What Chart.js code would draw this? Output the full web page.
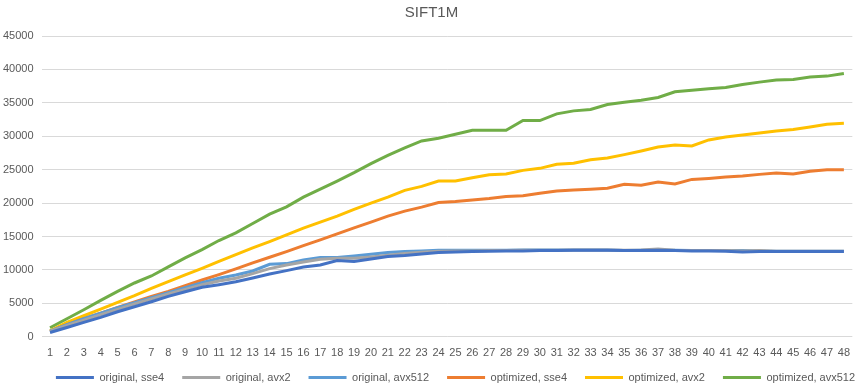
<!DOCTYPE html>
<html>
<head>
<meta charset="utf-8">
<script src="https://cdn.jsdelivr.net/npm/chart.js@4/dist/chart.umd.min.js"></script>
<style>
  html, body { margin: 0; padding: 0; background: #fff; }
  #wrap { width: 860px; height: 386px; }
</style>
</head>
<body>
<div id="wrap"><canvas id="chart"></canvas></div>
<script>
// categories 1..48
var labels = [];
for (var i = 1; i <= 48; i++) labels.push(String(i));

var yTicks = [0, 5000, 10000, 15000, 20000, 25000, 30000, 35000, 40000, 45000];

var origSse4 = [650, 1400, 2150, 2900, 3750, 4500, 5250, 6050, 6750, 7400,
    7800, 8250, 8800, 9400, 9900, 10450, 10750, 11400, 11250, 11650,
    12000, 12150, 12400, 12600, 12700, 12750, 12800, 12850, 12850, 12900,
    12900, 12950, 12950, 12950, 12900, 12900, 12950, 12900, 12850, 12850,
    12800, 12700, 12750, 12750, 12750, 12750, 12750, 12750];
var origAvx2 = [800, 1700, 2500, 3300, 4100, 4900, 5650, 6400, 7100, 7800,
    8350, 8750, 9450, 10200, 10750, 11200, 11600, 11750, 11750, 11950,
    12200, 12450, 12650, 12800, 12850, 12850, 12900, 12900, 12950, 12950,
    12950, 13000, 13000, 13000, 12950, 13000, 13150, 12950, 12900, 12900,
    12900, 12850, 12900, 12800, 12800, 12800, 12800, 12800];
var origAvx512 = [850, 1800, 2700, 3550, 4350, 5100, 5850, 6600, 7350, 8100,
    8750, 9250, 9850, 10850, 10950, 11500, 11850, 11850, 12100, 12350,
    12600, 12750, 12850, 12950, 12950, 12950, 12950, 12950, 13000, 13000,
    13000, 13000, 13000, 13000, 12900, 12950, 12950, 12950, 12900, 12900,
    12900, 12900, 12850, 12800, 12800, 12800, 12800, 12800];
var optSse4 = [800, 1800, 2700, 3550, 4400, 5200, 6050, 6800, 7650, 8500,
    9300, 10150, 11050, 11900, 12750, 13650, 14500, 15400, 16300, 17150,
    18050, 18800, 19400, 20080, 20230, 20480, 20680, 20980, 21100, 21480,
    21820, 21970, 22070, 22220, 22820, 22670, 23170, 22850, 23550, 23700,
    23900, 24050, 24300, 24500, 24350, 24750, 25000, 25000];
var optAvx2 = [900, 2150, 3150, 4150, 5150, 6150, 7250, 8250, 9250, 10250,
    11300, 12300, 13300, 14250, 15250, 16250, 17150, 18050, 19050, 20000,
    20900, 21900, 22500, 23300, 23300, 23800, 24250, 24350, 24900, 25200,
    25800, 25950, 26500, 26750, 27250, 27800, 28400, 28700, 28550, 29450,
    29900, 30200, 30500, 30800, 31000, 31400, 31800, 31950];
var optAvx512 = [1350, 2700, 4050, 5450, 6800, 8050, 9100, 10450, 11800, 13050,
    14400, 15550, 16950, 18350, 19450, 20900, 22100, 23300, 24550, 25900,
    27150, 28250, 29300, 29700, 30300, 30900, 30900, 30900, 32350, 32350,
    33350, 33800, 34000, 34750, 35100, 35400, 35800, 36650, 36900, 37100,
    37300, 37750, 38100, 38400, 38500, 38850, 39000, 39400];

var seriesNames = ['original, sse4', 'original, avx2', 'original, avx512',
    'optimized, sse4', 'optimized, avx2', 'optimized, avx512'];
var seriesColors = ['#4472C4', '#A5A5A5', '#5B9BD5', '#ED7D31', '#FFC000', '#70AD47'];
var seriesData = [origSse4, origAvx2, origAvx512, optSse4, optAvx2, optAvx512];

var datasets = [];
for (var s = 0; s < seriesNames.length; s++) {
    datasets.push({
        label: seriesNames[s],
        data: seriesData[s],
        borderColor: seriesColors[s],
        backgroundColor: seriesColors[s],
        borderWidth: 3,
        pointRadius: 0,
        pointHoverRadius: 0,
        tension: 0,
        fill: false
    });
}

// legend takes little room in the layout, then gets moved up / right a bit
var legendNudge = {
    id: 'legendNudge',
    afterLayout: function (chart) {
        var lg = chart.legend;
        lg.top -= 16;
        lg.bottom = chart.height;
        lg.left += 24;
        lg.right += 24;
    }
};

var ctx = document.getElementById('chart').getContext('2d');
var chart = new Chart(ctx, {
    type: 'line',
    data: { labels: labels, datasets: datasets },
    plugins: [legendNudge],
    options: {
        responsive: true,
        maintainAspectRatio: false,
        animation: false,
        layout: { padding: { left: -5, right: -8, top: 4, bottom: 0 } },
        plugins: {
            title: {
                display: true,
                text: 'SIFT1M',
                color: '#595959',
                font: { family: 'Liberation Sans', size: 15, weight: 'normal' },
                padding: { top: 0, bottom: 14 }
            },
            legend: {
                position: 'bottom',
                maxHeight: 16,
                labels: {
                    usePointStyle: true,
                    pointStyle: 'line',
                    pointStyleWidth: 38,
                    boxWidth: 38,
                    boxHeight: 3,
                    padding: 18,
                    color: '#595959',
                    font: { family: 'Liberation Sans', size: 11 }
                }
            },
            tooltip: { enabled: false }
        },
        scales: {
            x: {
                offset: true,
                grid: { display: false, drawTicks: false },
                border: { display: false },
                ticks: {
                    color: '#595959',
                    font: { family: 'Liberation Sans', size: 11 },
                    maxRotation: 0,
                    autoSkip: false,
                    padding: 10
                }
            },
            y: {
                min: 0,
                max: 45000,
                afterBuildTicks: function (axis) {
                    axis.ticks = yTicks.map(function (v) { return { value: v }; });
                },
                grid: { color: '#d9d9d9', lineWidth: 1, drawTicks: false },
                border: { display: false },
                ticks: {
                    color: '#595959',
                    font: { family: 'Liberation Sans', size: 11 },
                    padding: 8,
                    callback: function (v) { return String(v); }
                }
            }
        }
    }
});
</script>
</body>
</html>
